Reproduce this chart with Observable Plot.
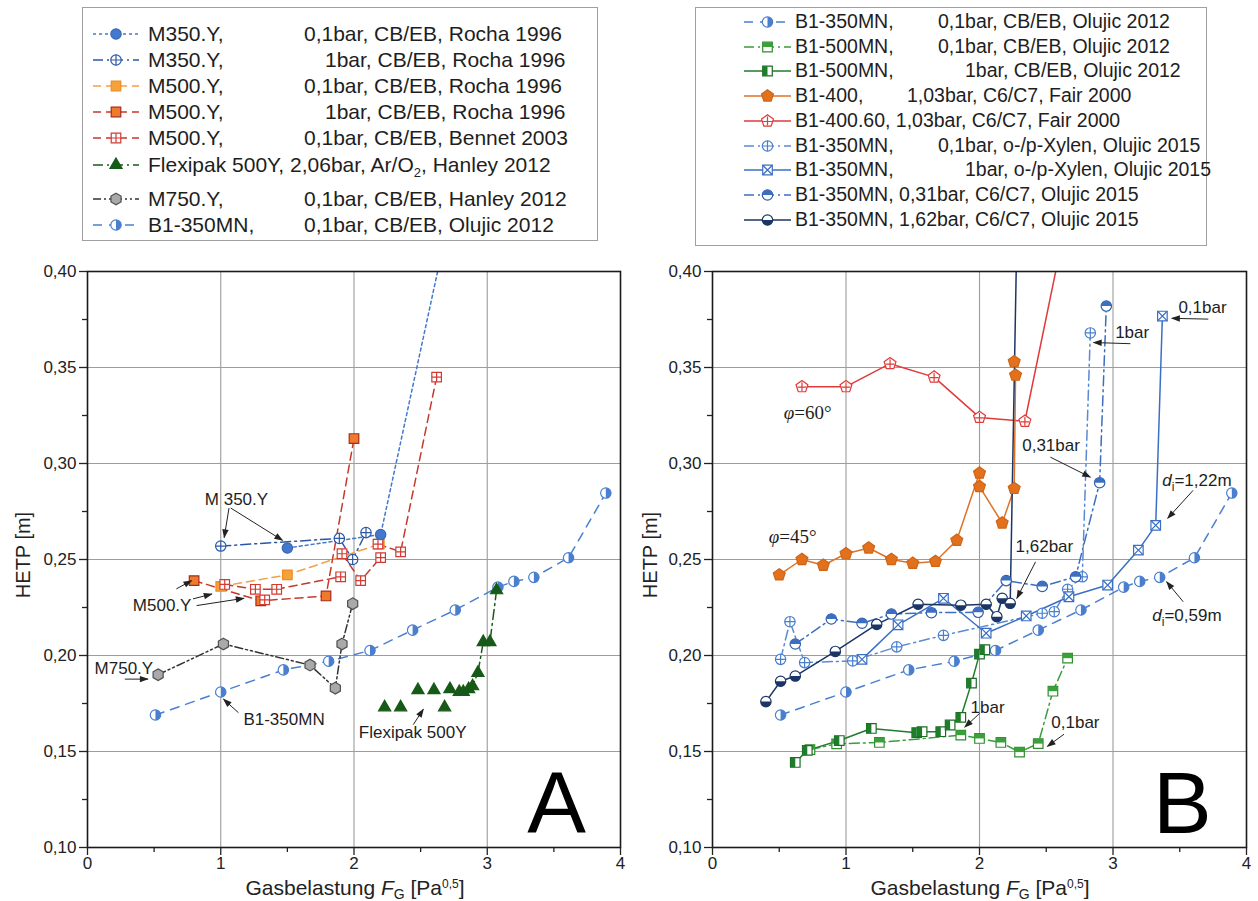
<!DOCTYPE html>
<html><head><meta charset="utf-8">
<script src="https://cdn.jsdelivr.net/npm/d3@7"></script>
<script src="https://cdn.jsdelivr.net/npm/@observablehq/plot@0.6"></script>
<style>
body{margin:0;background:#fff;font-family:"Liberation Sans",Arial,sans-serif;}
#root{position:relative;width:1258px;height:901px;overflow:hidden;background:#fff;}
.box{position:absolute;border:1.5px solid #a0a0a0;box-sizing:border-box;background:#fff;}
.lt{position:absolute;white-space:nowrap;color:#1e1e1e;}
.lt sub{font-size:0.62em;vertical-align:-0.35em;line-height:0;}
.smp{position:absolute;}
.pl{position:absolute;top:250px;}
</style></head><body><div id="root"></div>
<script>
// ---------------- DATA ----------------
const xTicks = [0, 1, 2, 3, 4];
const xMinor = [0.5, 1.5, 2.5, 3.5];
const yTicks = [0.10, 0.15, 0.20, 0.25, 0.30, 0.35, 0.40];
const yMinor = [0.125, 0.175, 0.225, 0.275, 0.325, 0.375];

// Panel A
const m350a_x = [1.50, 2.20, 2.69];               // M350.Y 0,1bar Rocha 1996
const m350a_y = [0.256, 0.263, 0.420];
const m350b_x = [1.00, 1.89, 1.99, 2.09];         // M350.Y 1bar Rocha 1996
const m350b_y = [0.257, 0.261, 0.250, 0.264];
const m500a_x = [1.00, 1.50, 2.19];               // M500.Y 0,1bar Rocha 1996
const m500a_y = [0.236, 0.242, 0.258];
const m500b_x = [0.80, 1.30, 1.79, 2.00];         // M500.Y 1bar Rocha 1996
const m500b_y = [0.239, 0.2285, 0.231, 0.313];
const bennet_x = [1.03, 1.26, 1.33, 1.42, 1.90, 1.91, 2.05, 2.18, 2.20, 2.35, 2.62]; // M500.Y Bennet 2003
const bennet_y = [0.237, 0.2345, 0.229, 0.2345, 0.241, 0.253, 0.239, 0.258, 0.251, 0.254, 0.345];
const bennet_run = ["a", "a", "b", "a", "a", "c", "c", "d", "c", "d", "d"];
const flexi_x = [2.23, 2.35, 2.48, 2.60, 2.68, 2.72, 2.79, 2.82, 2.86, 2.89, 2.93, 2.97, 3.02, 3.07]; // Flexipak 500Y
const flexi_y = [0.173, 0.173, 0.182, 0.182, 0.173, 0.1825, 0.181, 0.181, 0.1825, 0.184, 0.191, 0.207, 0.207, 0.234];
const m750_x = [0.53, 1.02, 1.67, 1.86, 1.91, 1.99]; // M750.Y Hanley 2012
const m750_y = [0.190, 0.206, 0.195, 0.183, 0.206, 0.227];
const olu12_x = [0.51, 1.00, 1.47, 1.81, 2.12, 2.44, 2.76, 3.08, 3.20, 3.35, 3.61, 3.89]; // B1-350MN Olujic 2012
const olu12_y = [0.169, 0.181, 0.1925, 0.197, 0.2026, 0.2132, 0.2237, 0.2356, 0.2386, 0.2407, 0.2509, 0.2846];

// Panel B
const b500a_x = [0.73, 0.93, 1.25, 1.86, 2.00, 2.16, 2.30, 2.44, 2.55, 2.66]; // B1-500MN 0,1bar
const b500a_y = [0.151, 0.154, 0.1547, 0.1585, 0.1568, 0.1547, 0.1497, 0.1541, 0.1814, 0.1986];
const b500b_x = [0.62, 0.71, 0.95, 1.19, 1.53, 1.57, 1.71, 1.78, 1.86, 1.94, 2.00, 2.04]; // B1-500MN 1bar
const b500b_y = [0.1443, 0.1506, 0.1557, 0.162, 0.1598, 0.1603, 0.1603, 0.1638, 0.1678, 0.1856, 0.2007, 0.203];
const b400_x = [0.50, 0.67, 0.83, 1.00, 1.17, 1.34, 1.50, 1.67, 1.83, 2.00, 2.00, 2.17, 2.26, 2.27, 2.26]; // B1-400 Fair
const b400_y = [0.242, 0.250, 0.247, 0.253, 0.256, 0.250, 0.248, 0.249, 0.260, 0.295, 0.288, 0.269, 0.287, 0.346, 0.353];
const b40060_x = [0.67, 1.00, 1.33, 1.66, 2.00, 2.34, 2.63]; // B1-400.60 Fair
const b40060_y = [0.340, 0.340, 0.352, 0.345, 0.324, 0.322, 0.420];
const xyl01_x = [0.51, 0.58, 0.69, 1.05, 1.38, 1.73, 2.47, 2.56, 2.66, 2.77, 2.83]; // o-/p-Xylen 0,1bar
const xyl01_y = [0.198, 0.2176, 0.1963, 0.1972, 0.2045, 0.2105, 0.222, 0.2228, 0.2345, 0.241, 0.368];
const xyl1_x = [1.12, 1.39, 1.73, 2.05, 2.35, 2.67, 2.96, 3.19, 3.32, 3.37]; // o-/p-Xylen 1bar
const xyl1_y = [0.198, 0.216, 0.2298, 0.2116, 0.2206, 0.2306, 0.2367, 0.2549, 0.2678, 0.3768];
const c031_x = [0.62, 0.89, 1.12, 1.34, 1.64, 1.99, 2.20, 2.47, 2.72, 2.90, 2.95]; // C6/C7 0,31bar
const c031_y = [0.206, 0.219, 0.2168, 0.2216, 0.2223, 0.2225, 0.239, 0.236, 0.241, 0.290, 0.382];
const c162_x = [0.40, 0.51, 0.62, 0.92, 1.23, 1.54, 1.86, 2.05, 2.13, 2.17, 2.23, 2.28]; // C6/C7 1,62bar
const c162_y = [0.176, 0.1866, 0.1893, 0.2021, 0.2162, 0.2267, 0.2262, 0.2267, 0.2202, 0.2298, 0.2272, 0.420];

// Annotations A
const annA_text = ["M 350.Y", "M500.Y", "M750.Y", "B1-350MN", "Flexipak 500Y"];
const annA_x = [1.118, 0.56, 0.273, 1.475, 2.44];
const annA_y = [0.2814, 0.226, 0.1933, 0.1667, 0.1597];
const arrA_x1 = [1.062, 1.075, 0.667, 0.792, 0.819, 0.28, 1.133, 2.445];
const arrA_y1 = [0.2768, 0.2768, 0.2347, 0.2295, 0.226, 0.1877, 0.1702, 0.164];
const arrA_x2 = [1.026, 1.463, 0.781, 0.933, 1.173, 0.453, 1.021, 2.52];
const arrA_y2 = [0.2615, 0.260, 0.239, 0.232, 0.2298, 0.1877, 0.1772, 0.172];
// Annotations B
const annB_text = ["1bar", "0,1bar", "0,31bar", "d_i=1,22m", "1,62bar", "d_i=0,59m", "1bar", "0,1bar"];
const annB_x = [3.016, 3.49, 2.32, 3.369, 2.27, 3.294, 1.933, 2.538];
const annB_y = [0.368, 0.381, 0.3094, 0.2912, 0.2566, 0.2206, 0.1729, 0.1653];
const phiB_text = ["φ=60°", "φ=45°"];
const phiB_x = [0.534, 0.422];
const phiB_y = [0.3265, 0.2617];
const arrB_x1 = [3.13, 3.714, 2.531, 3.60, 2.42, 3.526, 2.00, 2.633];
const arrB_y1 = [0.3624, 0.3752, 0.3033, 0.286, 0.2488, 0.228, 0.1698, 0.159];
const arrB_x2 = [2.855, 3.441, 2.83, 3.41, 2.28, 3.402, 1.89, 2.509];
const arrB_y2 = [0.363, 0.3756, 0.2929, 0.2715, 0.2298, 0.2384, 0.1627, 0.1527];
const bigA = ["A"], bigB = ["B"], big_x = [3.52], big_y = [0.122];

// Legends
const legA_keys = ["m350a", "m350b", "m500a", "m500b", "bennet", "flexi", "m750", "olu12"];
const legA_name = ["M350.Y,", "M350.Y,", "M500.Y,", "M500.Y,", "M500.Y,", "Flexipak 500Y, 2,06bar, Ar/O<sub>2</sub>, Hanley 2012", "M750.Y,", "B1-350MN,"];
const legA_rest = ["0,1bar, CB/EB, Rocha 1996", "1bar, CB/EB, Rocha 1996", "0,1bar, CB/EB, Rocha 1996", "1bar, CB/EB, Rocha 1996", "0,1bar, CB/EB, Bennet 2003", "", "0,1bar, CB/EB, Hanley 2012", "0,1bar, CB/EB, Olujic 2012"];
const legB_keys = ["olu12", "b500a", "b500b", "b400", "b40060", "xyl01", "xyl1", "c031", "c162"];
const legB_name = ["B1-350MN,", "B1-500MN,", "B1-500MN,", "B1-400,", "B1-400.60, 1,03bar, C6/C7, Fair 2000", "B1-350MN,", "B1-350MN,", "B1-350MN, 0,31bar, C6/C7, Olujic 2015", "B1-350MN, 1,62bar, C6/C7, Olujic 2015"];
const legB_rest = ["0,1bar, CB/EB, Olujic 2012", "0,1bar, CB/EB, Olujic 2012", "1bar, CB/EB, Olujic 2012", "1,03bar, C6/C7, Fair 2000", "", "0,1bar, o-/p-Xylen, Olujic 2015", "1bar, o-/p-Xylen, Olujic 2015", "", ""];

// ---------------- SYMBOLS ----------------
function sym(fn) { return {draw(c, size) { fn(c, Math.sqrt(size / Math.PI)); }}; }
function poly(n, rot, k) {
  return sym((c, r) => {
    const rr = r * k;
    for (let i = 0; i < n; i++) {
      const a = rot + i * 2 * Math.PI / n;
      const px = rr * Math.cos(a), py = rr * Math.sin(a);
      if (i) c.lineTo(px, py); else c.moveTo(px, py);
    }
    c.closePath();
  });
}
const S = {
  circle: sym((c, r) => { c.moveTo(r, 0); c.arc(0, 0, r, 0, 2 * Math.PI); c.closePath(); }),
  halfRight: sym((c, r) => { c.moveTo(0, -r); c.arc(0, 0, r, -Math.PI / 2, Math.PI / 2); c.closePath(); }),
  halfTop: sym((c, r) => { c.moveTo(-r, 0); c.arc(0, 0, r, Math.PI, 2 * Math.PI); c.closePath(); }),
  halfBottom: sym((c, r) => { c.moveTo(r, 0); c.arc(0, 0, r, 0, Math.PI); c.closePath(); }),
  plus: sym((c, r) => { c.moveTo(-r, 0); c.lineTo(r, 0); c.moveTo(0, -r); c.lineTo(0, r); }),
  square: sym((c, r) => { const s = r * 0.92; c.moveTo(-s, -s); c.lineTo(s, -s); c.lineTo(s, s); c.lineTo(-s, s); c.closePath(); }),
  sqTop: sym((c, r) => { const s = r * 0.92; c.moveTo(-s, -s); c.lineTo(s, -s); c.lineTo(s, 0); c.lineTo(-s, 0); c.closePath(); }),
  sqLeft: sym((c, r) => { const s = r * 0.92; c.moveTo(-s, -s); c.lineTo(0, -s); c.lineTo(0, s); c.lineTo(-s, s); c.closePath(); }),
  sqPlus: sym((c, r) => { const s = r * 0.92; c.moveTo(-s, 0); c.lineTo(s, 0); c.moveTo(0, -s); c.lineTo(0, s); }),
  sqX: sym((c, r) => { const s = r * 0.92; c.moveTo(-s, -s); c.lineTo(s, s); c.moveTo(s, -s); c.lineTo(-s, s); }),
  triangle: poly(3, -Math.PI / 2, 1.35),
  pentagon: poly(5, -Math.PI / 2, 1.2),
  pentPlus: sym((c, r) => { const s = r * 0.85; c.moveTo(-s, 0.1 * r); c.lineTo(s, 0.1 * r); c.moveTo(0, -s); c.lineTo(0, s); }),
  hexagon: poly(6, -Math.PI / 2, 1.12)
};
const R = 5.2;
const DD = "10,4,2,4";
const STY = {
  m350a: {color: "#4478cc", dash: "3,3", layers: [{s: "circle", fill: "#4478cc", stroke: "#3a68b8"}]},
  m350b: {color: "#2b58a6", dash: DD, layers: [{s: "circle", fill: "#fff", stroke: "#2b58a6"}, {s: "plus", fill: "none", stroke: "#2b58a6"}]},
  m500a: {color: "#f4a046", dash: "8,5", layers: [{s: "square", fill: "#f6a23a", stroke: "#ee8c24"}]},
  m500b: {color: "#c5392e", dash: "8,5", layers: [{s: "square", fill: "#f07a2c", stroke: "#a82a1e"}]},
  bennet: {color: "#c5392e", dash: "8,5", layers: [{s: "square", fill: "#fff", stroke: "#d33a30"}, {s: "sqPlus", fill: "none", stroke: "#d33a30"}]},
  flexi: {color: "#1c5a1c", dash: DD, layers: [{s: "triangle", fill: "#175a17", stroke: "#175a17"}]},
  m750: {color: "#333", dash: "8,3,2,3,2,3", layers: [{s: "hexagon", fill: "#a9a9a9", stroke: "#505050"}]},
  olu12: {color: "#4a7fcf", dash: "9,7", layers: [{s: "circle", fill: "#fff", stroke: "#4a7fcf"}, {s: "halfRight", fill: "#4a7fcf", stroke: "none"}]},
  b500a: {color: "#3a9c3a", dash: DD, layers: [{s: "square", fill: "#fff", stroke: "#2e8e2e"}, {s: "sqTop", fill: "#3aa03a", stroke: "none"}]},
  b500b: {color: "#1e7d2a", dash: null, layers: [{s: "square", fill: "#fff", stroke: "#1a6c22"}, {s: "sqLeft", fill: "#1e7d2a", stroke: "none"}]},
  b400: {color: "#dc7329", dash: null, layers: [{s: "pentagon", fill: "#e2711e", stroke: "#cf6414"}]},
  b40060: {color: "#e03a3a", dash: null, layers: [{s: "pentagon", fill: "#fff", stroke: "#e03a3a"}, {s: "pentPlus", fill: "none", stroke: "#e03a3a"}]},
  xyl01: {color: "#5a8ad6", dash: DD, layers: [{s: "circle", fill: "#fff", stroke: "#4a7fcf"}, {s: "plus", fill: "none", stroke: "#4a7fcf"}]},
  xyl1: {color: "#3a6fc4", dash: null, layers: [{s: "square", fill: "#fff", stroke: "#3a6fc4"}, {s: "sqX", fill: "none", stroke: "#3a6fc4"}]},
  c031: {color: "#3d6fc0", dash: DD, layers: [{s: "circle", fill: "#fff", stroke: "#2f5fb0"}, {s: "halfTop", fill: "#3d6fc0", stroke: "none"}]},
  c162: {color: "#1b3566", dash: null, layers: [{s: "circle", fill: "#fff", stroke: "#1b3566"}, {s: "halfBottom", fill: "#1b3566", stroke: "none"}]}
};

function rows(xs, ys, extra) { return xs.map((x, i) => Object.assign({x, y: ys[i]}, extra ? {run: extra[i]} : {})); }
function arrows(x1, y1, x2, y2) { return x1.map((v, i) => ({x1: v, y1: y1[i], x2: x2[i], y2: y2[i]})); }
function labels(t, x, y) { return t.map((v, i) => ({t: v, x: x[i], y: y[i]})); }

const seriesA = [
  {key: "olu12", rows: rows(olu12_x, olu12_y)},
  {key: "m750", rows: rows(m750_x, m750_y)},
  {key: "flexi", rows: rows(flexi_x, flexi_y), lineFilter: d => d.x >= 2.85},
  {key: "m500a", rows: rows(m500a_x, m500a_y)},
  {key: "m500b", rows: rows(m500b_x, m500b_y)},
  {key: "bennet", rows: rows(bennet_x, bennet_y, bennet_run), z: "run"},
  {key: "m350a", rows: rows(m350a_x, m350a_y)},
  {key: "m350b", rows: rows(m350b_x, m350b_y)}
];
const seriesB = [
  {key: "olu12", rows: rows(olu12_x, olu12_y)},
  {key: "b500a", rows: rows(b500a_x, b500a_y)},
  {key: "b500b", rows: rows(b500b_x, b500b_y)},
  {key: "b40060", rows: rows(b40060_x, b40060_y)},
  {key: "b400", rows: rows(b400_x, b400_y)},
  {key: "xyl01", rows: rows(xyl01_x, xyl01_y)},
  {key: "xyl1", rows: rows(xyl1_x, xyl1_y)},
  {key: "c031", rows: rows(c031_x, c031_y)},
  {key: "c162", rows: rows(c162_x, c162_y)}
];

const FONT = "Liberation Sans, Arial, sans-serif";
const fmtY = d => d.toFixed(2).replace(".", ",");

function makePanel(cfg) {
  const marks = [
    Plot.gridX(xTicks.slice(1, -1), {stroke: "#9c9c9c", strokeOpacity: 1, strokeWidth: 1.1}),
    Plot.gridY(yTicks.slice(1, -1), {stroke: "#9c9c9c", strokeOpacity: 1, strokeWidth: 1.1})
  ];
  for (const s of cfg.series) {
    const st = STY[s.key];
    const ld = s.lineFilter ? s.rows.filter(s.lineFilter) : s.rows;
    const o = {x: "x", y: "y", stroke: st.color, strokeWidth: 1.5, clip: true};
    if (st.dash) o.strokeDasharray = st.dash;
    if (s.z) o.z = s.z;
    marks.push(Plot.line(ld, o));
  }
  for (const s of cfg.series) {
    for (const L of STY[s.key].layers) {
      marks.push(Plot.dot(s.rows, {x: "x", y: "y", symbol: S[L.s], r: R, fill: L.fill, stroke: L.stroke, strokeWidth: 1.2, clip: true}));
    }
  }
  marks.push(
    Plot.link(cfg.arrows, {x1: "x1", y1: "y1", x2: "x2", y2: "y2", stroke: "#222", strokeWidth: 1, markerEnd: "arrow"}),
    Plot.text(cfg.labels, {x: "x", y: "y", text: "t", fontSize: 17, fill: "#1e1e1e", textAnchor: cfg.anchor}),
    Plot.text(cfg.big.map((t, i) => ({t, x: big_x[i], y: big_y[i]})), {x: "x", y: "y", text: "t", fontSize: 88, fill: "#000"}),
    Plot.frame({stroke: "#1a1a1a", strokeWidth: 1.6}),
    Plot.axisX(xTicks, {tickSize: 8, tickPadding: 1, fontSize: 17, label: null, tickFormat: d => String(d), strokeWidth: 1.3}),
    Plot.axisX(xMinor, {tickSize: 5, tickFormat: () => "", label: null, strokeWidth: 1.3}),
    Plot.axisY(yTicks, {tickSize: 8, tickPadding: 3, fontSize: 17, label: null, tickFormat: fmtY, strokeWidth: 1.3}),
    Plot.axisY(yMinor, {tickSize: 5, tickFormat: () => "", label: null, strokeWidth: 1.3})
  );
  if (cfg.phis) marks.push(Plot.text(cfg.phis, {x: "x", y: "y", text: "t", fontSize: 19, fontFamily: "Liberation Serif, serif", fill: "#1e1e1e", textAnchor: "start"}));
  const svg = Plot.plot({
    width: cfg.width, height: 650,
    marginLeft: cfg.ml, marginRight: cfg.mr, marginTop: 21, marginBottom: 53,
    x: {domain: [0, 4], label: null},
    y: {domain: [0.10, 0.40], label: null},
    style: {background: "transparent", fontFamily: FONT, fontSize: "17px", color: "#222", overflow: "visible"},
    marks
  });
  const sel = d3.select(svg);
  // filled arrowheads
  sel.selectAll("marker").each(function () {
    const m = d3.select(this);
    const col = m.attr("stroke") || "#222";
    m.attr("fill", col).attr("stroke", "none").attr("overflow", "visible").attr("markerWidth", 10).attr("markerHeight", 10);
    m.selectAll("path").attr("d", "M-8,-3.2L1,0L-8,3.2Z");
  });
  // rich text
  sel.selectAll("text").each(function () {
    const t = this.textContent;
    if (this.childElementCount) return;
    if (t.startsWith("d_i")) {
      const e = d3.select(this); e.text("");
      e.append("tspan").attr("font-style", "italic").text("d");
      e.append("tspan").attr("dy", 5).attr("font-size", 12).text("i");
      e.append("tspan").attr("dy", -5).text(t.slice(3));
    } else if (t.startsWith("φ")) {
      const e = d3.select(this); e.text("");
      e.append("tspan").attr("font-style", "italic").text("φ");
      e.append("tspan").text(t.slice(1));
    }
  });
  // axis labels
  sel.append("text").attr("transform", `translate(${cfg.yLabX},305) rotate(-90)`).attr("text-anchor", "middle")
    .attr("dominant-baseline", "middle").attr("font-size", 20).attr("fill", "#222").text("HETP [m]");
  const t = sel.append("text").attr("x", cfg.xLabX).attr("y", 645).attr("text-anchor", "middle").attr("font-size", 21).attr("fill", "#222");
  t.append("tspan").text("Gasbelastung ");
  t.append("tspan").attr("font-style", "italic").text("F");
  t.append("tspan").attr("dy", 4).attr("font-size", 14).text("G");
  t.append("tspan").attr("dy", -4).text(" [Pa");
  t.append("tspan").attr("dy", -7).attr("font-size", 12).text("0,5");
  t.append("tspan").attr("dy", 7).text("]");
  svg.classList.add("pl");
  svg.style.left = cfg.left + "px";
  return svg;
}

const root = document.getElementById("root");

root.appendChild(makePanel({
  series: seriesA, arrows: arrows(arrA_x1, arrA_y1, arrA_x2, arrA_y2), labels: labels(annA_text, annA_x, annA_y),
  anchor: "middle", big: bigA, width: 630, ml: 87, mr: 10, left: 0, yLabX: 25, xLabX: 355
}));
root.appendChild(makePanel({
  series: seriesB, arrows: arrows(arrB_x1, arrB_y1, arrB_x2, arrB_y2), labels: labels(annB_text, annB_x, annB_y),
  phis: labels(phiB_text, phiB_x, phiB_y),
  anchor: "start", big: bigB, width: 632, ml: 86, mr: 12, left: 626, yLabX: 26, xLabX: 354
}));

// ---------------- LEGENDS ----------------
function addBox(l, t, w, h) {
  const d = document.createElement("div"); d.className = "box";
  Object.assign(d.style, {left: l + "px", top: t + "px", width: w + "px", height: h + "px"});
  root.appendChild(d);
}
function addText(html, l, cy, fs) {
  const s = document.createElement("div"); s.className = "lt"; s.innerHTML = html;
  Object.assign(s.style, {left: l + "px", top: (cy - fs * 0.6) + "px", fontSize: fs + "px", lineHeight: (fs * 1.2) + "px"});
  root.appendChild(s);
}
function addSample(key, l, cy, w) {
  const st = STY[key];
  const svg = d3.create("svg").attr("width", w).attr("height", 24).attr("class", "smp")
    .style("left", l + "px").style("top", (cy - 12) + "px");
  svg.append("line").attr("x1", 1).attr("x2", w - 1).attr("y1", 12).attr("y2", 12)
    .attr("stroke", st.color).attr("stroke-width", 1.5).attr("stroke-dasharray", st.dash);
  for (const L of st.layers) {
    svg.append("path").attr("transform", `translate(${w / 2},12)`).attr("d", d3.symbol(S[L.s], Math.PI * R * R)())
      .attr("fill", L.fill).attr("stroke", L.stroke).attr("stroke-width", 1.2);
  }
  root.appendChild(svg.node());
}

addBox(82, 7, 516, 234);
const rowA = [34, 60, 86, 112, 138, 165, 199, 225];
legA_keys.forEach((k, i) => {
  addSample(k, 92, rowA[i], 48);
  addText(legA_name[i], 148, rowA[i], 21);
  const r = legA_rest[i];
  if (r) addText(r, r.startsWith("1bar") ? 325 : 304, rowA[i], 21);
});

addBox(695, 7, 512, 239);
const rowB = [22, 47, 71, 96, 121, 146, 170, 195, 220];
legB_keys.forEach((k, i) => {
  addSample(k, 743, rowB[i], 49);
  addText(legB_name[i], 795, rowB[i], 19.5);
  const r = legB_rest[i];
  if (r) addText(r, r.startsWith("1bar") ? 965 : (r.startsWith("1,03") ? 907 : 938), rowB[i], 19.5);
});
</script></body></html>
